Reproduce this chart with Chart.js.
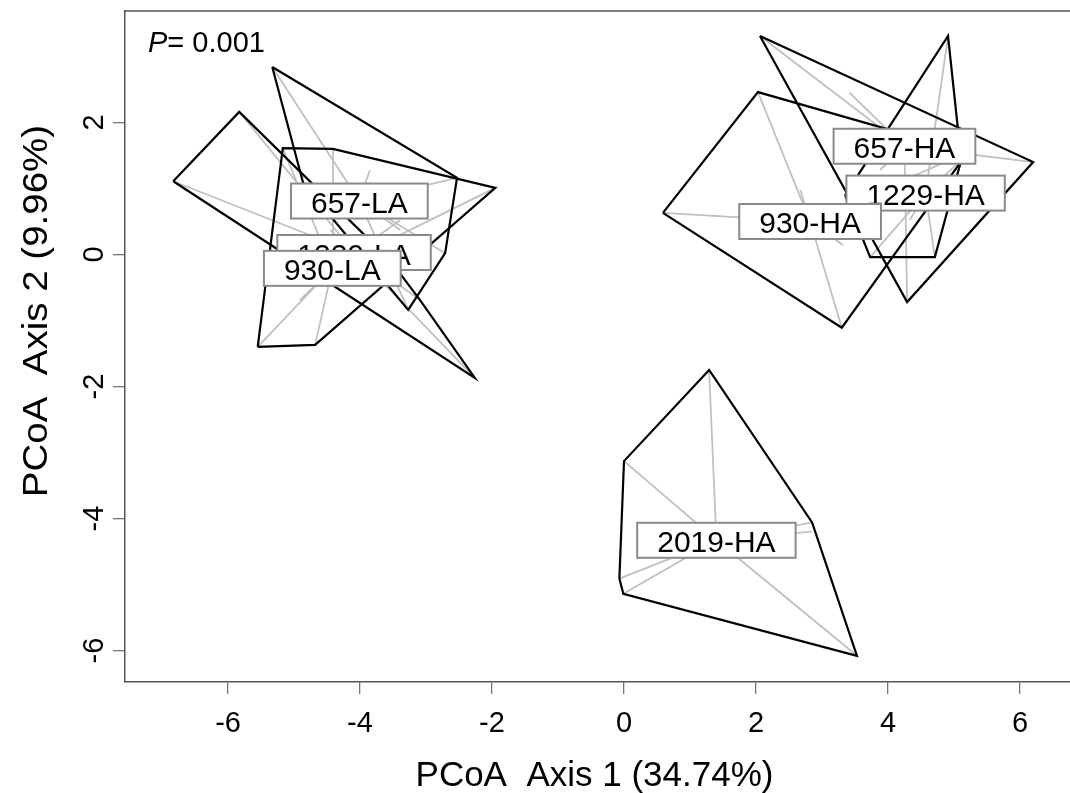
<!DOCTYPE html>
<html>
<head>
<meta charset="utf-8">
<script src="https://cdn.jsdelivr.net/npm/chart.js@4.4.1/dist/chart.umd.min.js"></script>
<style>
  html, body { margin: 0; padding: 0; background: #fff; overflow: hidden; }
  #wrap { width: 1070px; height: 793px; position: relative; }
</style>
</head>
<body>
<div id="wrap"><canvas id="c"></canvas></div>
<script>
// PCoA ordination: convex hulls (black) and spiders (grey) per site group
const groupNames = ['1229-HA', '1229-LA', '2019-HA', '657-HA', '657-LA', '930-HA', '930-LA'];

// group centroids (label anchors), axis 1 / axis 2
const centroidX = [4.57, -4.09, 1.40, 4.25, -4.01, 2.82, -4.42];
const centroidY = [0.93, 0.03, -4.33, 1.64, 0.81, 0.50, -0.21];

// sample scores per group [axis1, axis2]
const pts1229HA = [[4.91, 3.31], [5.11, 1.43], [4.71, -0.04], [3.73, -0.04], [3.35, 0.90], [4.33, 0.52], [4.86, 0.83], [4.18, 1.20]];
const pts1229LA = [[-6.83, 1.11], [-5.83, 2.16], [-2.26, -1.87], [-4.45, 0.37], [-3.55, -0.08], [-4.91, 0.07], [-3.09, -0.69]];
const pts2019HA = [[1.29, -1.75], [2.85, -4.06], [2.85, -4.20], [3.53, -6.08], [-0.01, -5.14], [-0.07, -4.91], [0.00, -3.13]];
const pts657HA  = [[2.06, 3.31], [6.20, 1.40], [4.29, -0.72], [3.42, 2.45], [4.64, 1.73], [3.88, 1.28]];
const pts657LA  = [[-5.33, 2.84], [-2.53, 1.16], [-2.71, 0.02], [-3.27, -0.84], [-4.86, 1.08], [-3.85, 1.28], [-4.45, 0.83], [-3.39, 0.37]];
const pts930HA  = [[0.59, 0.63], [2.03, 2.46], [5.21, 1.55], [3.30, -1.11], [3.32, 0.14], [2.67, 0.98]];
const pts930LA  = [[-5.17, 1.61], [-4.41, 1.60], [-1.95, 1.01], [-4.68, -1.37], [-5.55, -1.40], [-4.91, -0.69], [-4.15, -0.08], [-3.39, 0.52]];

const groupPoints = [pts1229HA, pts1229LA, pts2019HA, pts657HA, pts657LA, pts930HA, pts930LA];

// axis ticks and titles
const xTicks = [-6, -4, -2, 0, 2, 4, 6];
const yTicks = [2, 0, -2, -4, -6];
const xTitle = 'PCoA  Axis 1 (34.74%)';
const yTitle = 'PCoA  Axis 2 (9.96%)';
const pLabel = 'P';
const pValue = '= 0.001';

const FONT = '"Liberation Sans", Arial, Helvetica, sans-serif';

// monotone-chain convex hull, returned closed
function convexHull(points) {
  const p = points.map(q => ({ x: q[0], y: q[1] })).sort((a, b) => a.x - b.x || a.y - b.y);
  const cross = (o, a, b) => (a.x - o.x) * (b.y - o.y) - (a.y - o.y) * (b.x - o.x);
  const lower = [];
  for (const q of p) {
    while (lower.length >= 2 && cross(lower[lower.length - 2], lower[lower.length - 1], q) <= 0) lower.pop();
    lower.push(q);
  }
  const upper = [];
  for (let i = p.length - 1; i >= 0; i--) {
    const q = p[i];
    while (upper.length >= 2 && cross(upper[upper.length - 2], upper[upper.length - 1], q) <= 0) upper.pop();
    upper.push(q);
  }
  upper.pop(); lower.pop();
  const hull = lower.concat(upper);
  hull.push(hull[0]);
  return hull;
}

// spider segments from centroid to every sample, separated by gaps
function spider(points, cx, cy) {
  const out = [];
  points.forEach(q => {
    out.push({ x: cx, y: cy }, { x: q[0], y: q[1] }, { x: null, y: null });
  });
  return out;
}

const datasets = [];
groupNames.forEach((g, i) => {
  datasets.push({
    label: g + ' hull',
    data: convexHull(groupPoints[i]),
    showLine: true, borderColor: '#000', borderWidth: 2.2,
    pointRadius: 0, tension: 0, order: 0, spanGaps: false
  });
  datasets.push({
    label: g + ' spider',
    data: spider(groupPoints[i], centroidX[i], centroidY[i]),
    showLine: true, borderColor: '#c0c0c0', borderWidth: 1.8,
    pointRadius: 0, tension: 0, order: 1, spanGaps: false
  });
});

const annotations = {
  id: 'annotations',
  afterDatasetsDraw(chart) {
    const { ctx, scales: { x, y } } = chart;
    ctx.save();
    ctx.font = '30px ' + FONT;
    groupNames.forEach((g, i) => {
      const cx = x.getPixelForValue(centroidX[i]);
      const cy = y.getPixelForValue(centroidY[i]);
      const w = ctx.measureText(g).width + 40, h = 35;
      ctx.fillStyle = '#fff';
      ctx.fillRect(cx - w / 2, cy - h / 2, w, h);
      ctx.strokeStyle = '#8a8a8a';
      ctx.lineWidth = 2;
      ctx.strokeRect(cx - w / 2, cy - h / 2, w, h);
      ctx.fillStyle = '#000';
      ctx.textAlign = 'center';
      ctx.textBaseline = 'alphabetic';
      ctx.fillText(g, cx, cy + 12);
    });
    ctx.restore();
  },
  afterDraw(chart) {
    const { ctx, chartArea: a, scales: { x, y } } = chart;
    ctx.save();
    // top frame line
    ctx.strokeStyle = '#555';
    ctx.lineWidth = 1.5;
    ctx.beginPath();
    ctx.moveTo(a.left, a.top);
    ctx.lineTo(a.right, a.top);
    ctx.stroke();

    ctx.fillStyle = '#000';
    // x tick labels
    ctx.font = '29px ' + FONT;
    ctx.textAlign = 'center';
    ctx.textBaseline = 'alphabetic';
    xTicks.forEach(v => ctx.fillText(String(v), x.getPixelForValue(v), 732));
    // y tick labels, rotated
    yTicks.forEach(v => {
      ctx.save();
      ctx.translate(103, y.getPixelForValue(v));
      ctx.rotate(-Math.PI / 2);
      ctx.fillText(String(v), 0, 0);
      ctx.restore();
    });
    // axis titles
    ctx.font = '35px ' + FONT;
    ctx.fillText(xTitle, (a.left + a.right) / 2 - 3, 786);
    ctx.save();
    ctx.translate(47, 311);
    ctx.rotate(-Math.PI / 2);
    ctx.scale(1.1, 1);
    ctx.fillText(yTitle, 0, 0);
    ctx.restore();
    // permutation test result
    ctx.textAlign = 'left';
    ctx.font = 'italic 29px ' + FONT;
    ctx.fillText(pLabel, 148, 52);
    const pw = ctx.measureText(pLabel).width;
    ctx.font = '29px ' + FONT;
    ctx.fillText(pValue, 148 + pw, 52);
    ctx.restore();
  }
};

new Chart(document.getElementById('c'), {
  type: 'scatter',
  data: { datasets },
  options: {
    responsive: true,
    maintainAspectRatio: false,
    animation: false,
    events: [],
    layout: { padding: { top: 11, right: 0, left: 0, bottom: 0 } },
    plugins: { legend: { display: false }, tooltip: { enabled: false } },
    scales: {
      x: {
        type: 'linear', position: 'bottom',
        min: -7.561, max: 6.758,
        afterBuildTicks: s => { s.ticks = xTicks.map(v => ({ value: v })); },
        afterFit: s => { s.height = 111; },
        ticks: { display: false },
        grid: { drawOnChartArea: false, drawTicks: true, tickLength: 12, color: '#777', lineWidth: 1.3 },
        border: { display: true, color: '#555', width: 1.5 }
      },
      y: {
        type: 'linear', position: 'left',
        min: -6.477, max: 3.689,
        afterBuildTicks: s => { s.ticks = yTicks.map(v => ({ value: v })); },
        afterFit: s => { s.width = 125; },
        ticks: { display: false },
        grid: { drawOnChartArea: false, drawTicks: true, tickLength: 12, color: '#777', lineWidth: 1.3 },
        border: { display: true, color: '#555', width: 1.5 }
      }
    }
  },
  plugins: [annotations]
});
</script>
</body>
</html>
